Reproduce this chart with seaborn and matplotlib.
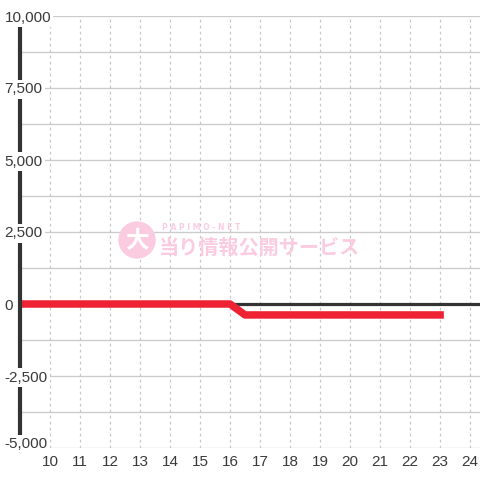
import numpy as np
import pandas as pd
import matplotlib
matplotlib.use("Agg")
import matplotlib.pyplot as plt
import seaborn as sns
from matplotlib.patches import Circle

# data
hours = [9, 16, 16.5, 23]
balance = [0, 0, -380, -380]
x_ticks = list(range(10, 25))
y_ticks = [-5000, -2500, 0, 2500, 5000, 7500, 10000]
y_labels = ["-5,000", "-2,500", "0", "2,500", "5,000", "7,500", "10,000"]

sns.set_theme(style="white")
plt.rcParams["font.family"] = ["Liberation Sans", "DejaVu Sans"]

fig = plt.figure(figsize=(4.8, 4.8), dpi=100)
ax = fig.add_axes([20 / 480, 32 / 480, 460 / 480, 432 / 480])

df = pd.DataFrame({"hour": hours, "balance": balance})

# grid
for y in np.arange(-5000, 10001, 1250):
    ax.axhline(y, color="#cccccc", lw=1.0, zorder=0)
for x in x_ticks:
    ax.axvline(x, color="#c8c8c8", lw=0.9, ls=(0, (2.2, 2.6)), zorder=0)

ax.axhline(0, color="#333333", lw=2.3, zorder=2)

sns.lineplot(data=df, x="hour", y="balance", ax=ax, color="#ee2233",
             lw=5.4, zorder=3, solid_capstyle="projecting")

ax.set_xlim(9, 24.33)
ax.set_ylim(-5000, 10000)
ax.set_xlabel("")
ax.set_ylabel("")

for s in ["top", "right", "bottom"]:
    ax.spines[s].set_visible(False)
ax.spines["left"].set_color("#333333")
ax.spines["left"].set_linewidth(3)
ax.spines["left"].set_bounds(-4720, 9720)
ax.spines["left"].set_zorder(4)

ax.set_xticks(x_ticks)
ax.set_xticklabels([str(x) for x in x_ticks])
ax.set_yticks(y_ticks)
ax.set_yticklabels(y_labels)
ax.tick_params(axis="x", length=0, pad=5, labelsize=11, colors="#3a3a3a")
ax.tick_params(axis="y", length=0, pad=11, labelsize=11, colors="#3a3a3a")
ax.yaxis.set_zorder(6)
for lab in ax.get_yticklabels():
    lab.set_horizontalalignment("left")
    lab.set_bbox(dict(facecolor="white", edgecolor="none", pad=1.5))
ax.get_yticklabels()[0].set_verticalalignment("baseline")

# watermark
pink = "#fbcce0"
fig.patches.append(Circle((137 / 480, 1 - 240 / 480), 18 / 480,
                          transform=fig.transFigure, color=pink, zorder=6))
fig.text(137 / 480, 1 - 241 / 480, "大", color="white", fontsize=17,
         fontweight="bold", ha="center", va="center",
         family=["Noto Sans CJK JP", "DejaVu Sans"], zorder=7)
fig.text(162 / 480, 1 - 227 / 480, "P A P I M O - N E T", color=pink,
         fontsize=5.5, fontweight="bold", ha="left", va="center", zorder=7,
         family=["DejaVu Sans"])
fig.text(159 / 480, 1 - 247 / 480, "当り情報公開サービス", color=pink,
         fontsize=14.5, fontweight="bold", ha="left", va="center", zorder=7,
         family=["Noto Sans CJK JP", "DejaVu Sans"])

fig.savefig("out.png", dpi=100)
